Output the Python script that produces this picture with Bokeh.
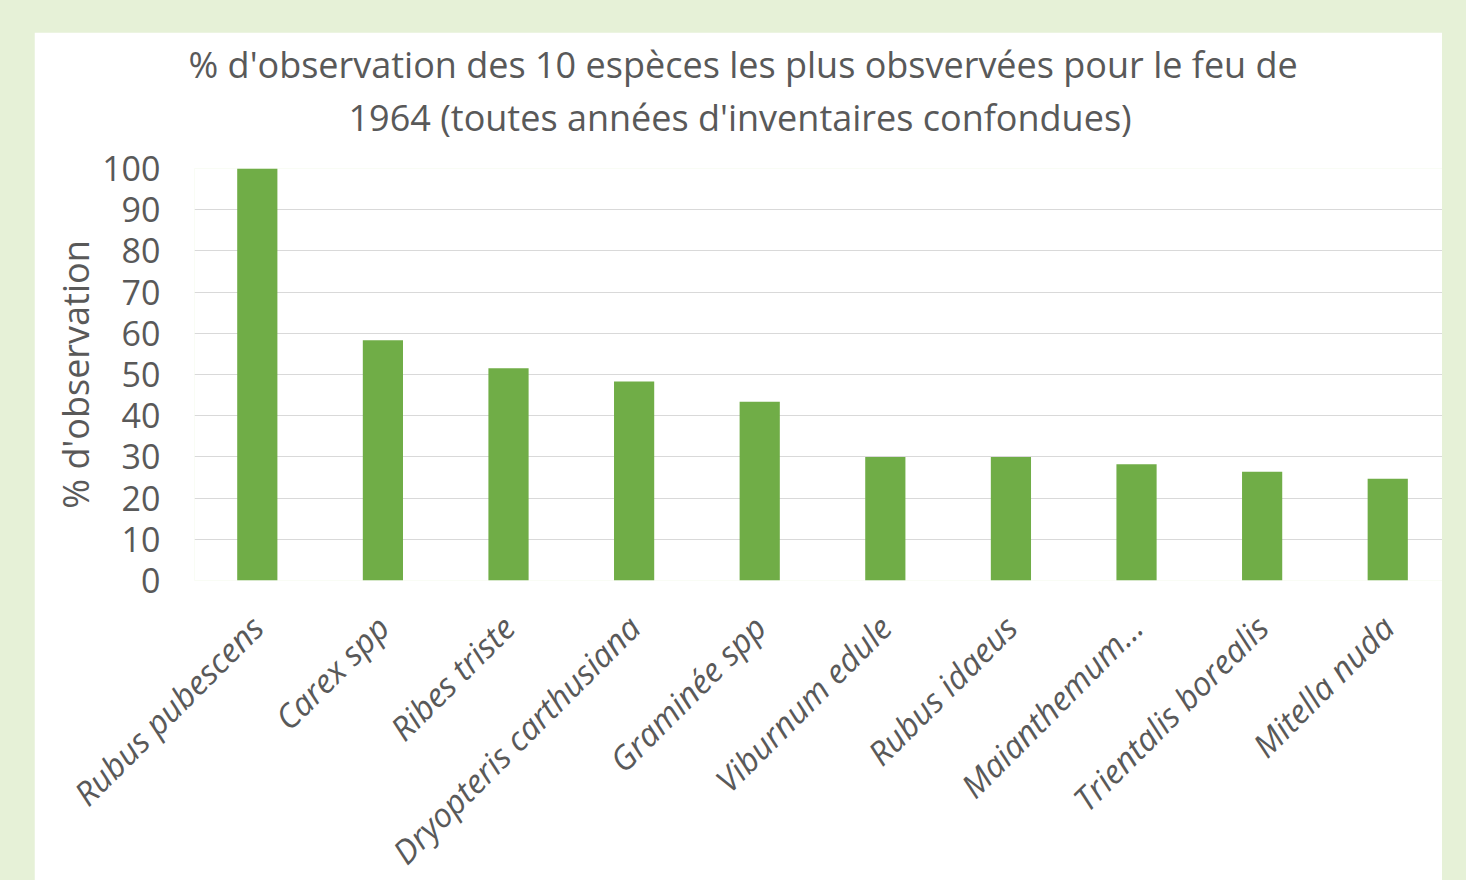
import math
from bokeh.plotting import figure
from bokeh.models import Range1d, FixedTicker, Title, GlobalInlineStyleSheet, ColumnDataSource
from bokeh.embed import file_html
from bokeh.resources import INLINE

species = ["Rubus pubescens", "Carex spp", "Ribes triste", "Dryopteris carthusiana",
           "Graminée spp", "Viburnum edule", "Rubus idaeus", "Maianthemum…",
           "Trientalis borealis", "Mitella nuda"]
pct_observation = [100, 58.3, 51.5, 48.3, 43.4, 30.0, 30.0, 28.2, 26.4, 24.7]
y_ticks = [0, 10, 20, 30, 40, 50, 60, 70, 80, 90, 100]
title_lines = ["% d'observation des 10 espèces les plus obsvervées pour le feu de",
               "1964 (toutes années d'inventaires confondues)"]
y_label = "% d'observation"

FONT = "Open Sans"
GREY = "#595959"
GREEN = "#70AD47"

idx = list(range(len(species)))
src = ColumnDataSource(dict(x=idx, top=pct_observation, name=species))

p = figure(width=1408, height=880, output_backend="svg", toolbar_location=None,
           x_range=Range1d(-0.5, 9.436), y_range=Range1d(0, 100),
           min_border_left=160, min_border_right=0, min_border_top=136, min_border_bottom=332)
p.margin = (32, 0, 0, 34)
p.stylesheets = [GlobalInlineStyleSheet(css="body { background-color: #e6f1d7; overflow: hidden; }")]
p.outline_line_color = None
p.background_fill_color = "white"
p.border_fill_color = "white"

p.vbar(x="x", top="top", bottom=0, width=0.32, source=src, fill_color=GREEN, line_color=None)

# axes
p.xaxis.ticker = FixedTicker(ticks=idx)
p.xaxis.major_label_overrides = {i: s for i, s in enumerate(species)}
p.xaxis.major_label_orientation = math.pi / 4
p.xaxis.major_label_text_font = FONT
p.xaxis.major_label_text_font_style = "italic"
p.xaxis.major_label_text_font_size = "33px"
p.xaxis.major_label_text_color = GREY
p.xaxis.major_label_standoff = 35
p.xaxis.axis_line_color = None
p.xaxis.major_tick_line_color = None
p.xaxis.minor_tick_line_color = None

p.yaxis.ticker = FixedTicker(ticks=y_ticks)
p.yaxis.major_label_text_font = FONT
p.yaxis.major_label_text_font_size = "34px"
p.yaxis.major_label_text_color = GREY
p.yaxis.major_label_standoff = 28
p.yaxis.axis_line_color = None
p.yaxis.major_tick_line_color = None
p.yaxis.minor_tick_line_color = None
p.yaxis.axis_label = y_label
p.yaxis.axis_label_text_font = FONT
p.yaxis.axis_label_text_font_style = "normal"
p.yaxis.axis_label_text_font_size = "36px"
p.yaxis.axis_label_text_color = GREY
p.yaxis.axis_label_standoff = -1

p.xgrid.grid_line_color = None
p.ygrid.ticker = FixedTicker(ticks=y_ticks)
p.ygrid.grid_line_color = "#d9d9d9"
p.ygrid.grid_line_width = 1

# title: two lines, second added first (closest to the frame)
for line, standoff, offset in [(title_lines[1], 54, 154), (title_lines[0], -50, -6)]:
    p.add_layout(Title(text=line, align="left", offset=offset, standoff=standoff,
                       text_font=FONT, text_font_size="36px", text_font_style="normal",
                       text_color=GREY), "above")

open("out.html", "w").write(file_html(p, INLINE))
